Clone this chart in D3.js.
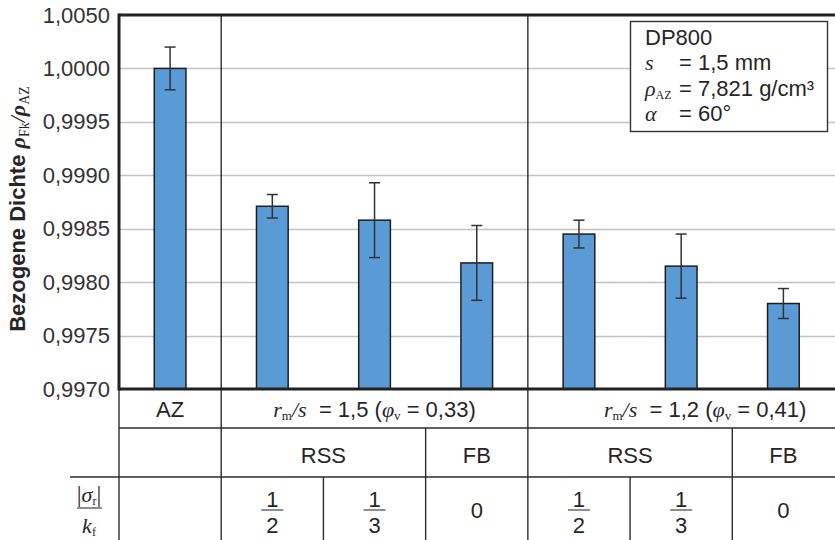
<!DOCTYPE html>
<html>
<head>
<meta charset="utf-8">
<script src="https://cdn.jsdelivr.net/npm/d3@7/dist/d3.min.js"></script>
<style>
  html, body { margin: 0; padding: 0; background: #fff; }
  svg { display: block; }
  .sans { font-family: "Liberation Sans", Arial, Helvetica, sans-serif; }
  .serif { font-family: "Liberation Serif", "Times New Roman", serif; }
</style>
</head>
<body>
<svg id="chart" width="835" height="540"></svg>
<script>
// Categories (one bar each) and their grouping for the table below the plot
const categories = ["AZ", "RSS 1/2 (1,5)", "RSS 1/3 (1,5)", "FB (1,5)", "RSS 1/2 (1,2)", "RSS 1/3 (1,2)", "FB (1,2)"];
// Relative density rho_Fk / rho_AZ and its scatter (± error)
const densities = [1.0000, 0.99871, 0.99858, 0.99818, 0.99845, 0.99815, 0.99780];
const errors    = [0.00020, 0.00011, 0.00035, 0.00035, 0.00013, 0.00030, 0.00014];
// Y axis ticks and their printed labels
const tickValues = [0.9970, 0.9975, 0.9980, 0.9985, 0.9990, 0.9995, 1.0000, 1.0005];
const tickLabels = ["0,9970", "0,9975", "0,9980", "0,9985", "0,9990", "0,9995", "1,0000", "1,0050"];
// Table rows below the plot
const bendGroups = [
  { first: 1, last: 3, r: "1,5", phi: "0,33" },
  { first: 4, last: 6, r: "1,2", phi: "0,41" }
];
const processCells = [
  { first: 1, last: 2, label: "RSS" },
  { first: 3, last: 3, label: "FB" },
  { first: 4, last: 5, label: "RSS" },
  { first: 6, last: 6, label: "FB" }
];
// |sigma_r| / k_f per category: [numerator, denominator] or single value
const stressRatio = [null, ["1", "2"], ["1", "3"], ["0"], ["1", "2"], ["1", "3"], ["0"]];
// Material info box
const infoLines = [
  { sym: null, text: "DP800" },
  { sym: "s", sub: null, text: "= 1,5 mm" },
  { sym: "ρ", sub: "AZ", text: "= 7,821 g/cm³" },
  { sym: "α", sub: null, text: "= 60°" }
];

const svg = d3.select("#chart");
const W = 835, H = 540;
const plotLeft = 119, plotRight = 834.5, plotTop = 15, plotBottom = 389;
const row1 = 428, row2 = 477;
const dark = "#2b2b2b", textCol = "#262626";

const x = d3.scaleBand().domain(categories).range([plotLeft, plotRight]).paddingInner(0.69).paddingOuter(0.345);
const y = d3.scaleLinear().domain([0.9970, 1.0005]).range([plotBottom, plotTop]);
const step = x.step();
const edge = i => plotLeft + i * step;   // cell boundary left of category i

// gridlines
svg.append("g").selectAll("line").data(tickValues.slice(1, -1)).join("line")
  .attr("x1", plotLeft).attr("x2", W)
  .attr("y1", d => Math.round(y(d)) + 0.5).attr("y2", d => Math.round(y(d)) + 0.5)
  .attr("stroke", "#c3c3c3").attr("stroke-width", 1.6);

// bars
svg.append("g").selectAll("rect").data(categories).join("rect")
  .attr("x", d => x(d)).attr("width", x.bandwidth())
  .attr("y", (d, i) => y(densities[i]))
  .attr("height", (d, i) => plotBottom - y(densities[i]))
  .attr("fill", "#5b9bd5").attr("stroke", "#1e1e1e").attr("stroke-width", 1.5);

// error bars
const eb = svg.append("g").attr("stroke", "#333").attr("stroke-width", 1.5);
categories.forEach((c, i) => {
  const cx = x(c) + x.bandwidth() / 2;
  const hi = y(densities[i] + errors[i]), lo = y(densities[i] - errors[i]);
  eb.append("line").attr("x1", cx).attr("x2", cx).attr("y1", hi).attr("y2", lo);
  eb.append("line").attr("x1", cx - 5.5).attr("x2", cx + 5.5).attr("y1", hi).attr("y2", hi);
  eb.append("line").attr("x1", cx - 5.5).attr("x2", cx + 5.5).attr("y1", lo).attr("y2", lo);
});

// y axis with labels
const yAxis = d3.axisLeft(y).tickValues(tickValues).tickSize(0).tickPadding(9)
  .tickFormat((d, i) => tickLabels[i]);
const ga = svg.append("g").attr("transform", `translate(${plotLeft},0)`).call(yAxis);
ga.select(".domain").remove();
ga.selectAll("text").attr("class", "sans").attr("font-size", 22).attr("fill", "#333")
  .attr("font-family", null);

// table and frame lines
const frame = svg.append("g").attr("stroke", dark).attr("stroke-width", 1.4).attr("fill", "none");
frame.append("line").attr("x1", plotLeft).attr("x2", plotLeft).attr("y1", plotBottom).attr("y2", H);
[1, 4].forEach(i => frame.append("line").attr("x1", edge(i)).attr("x2", edge(i)).attr("y1", plotTop).attr("y2", H));
[3, 6].forEach(i => frame.append("line").attr("x1", edge(i)).attr("x2", edge(i)).attr("y1", row1).attr("y2", H));
[2, 5].forEach(i => frame.append("line").attr("x1", edge(i)).attr("x2", edge(i)).attr("y1", row2).attr("y2", H));
frame.append("line").attr("x1", plotLeft).attr("x2", W).attr("y1", row1).attr("y2", row1);
frame.append("line").attr("x1", 70).attr("x2", W).attr("y1", row2).attr("y2", row2);

// heavy plot borders
const heavy = svg.append("g").attr("stroke", "#222").attr("stroke-width", 3).attr("fill", "none");
heavy.append("line").attr("x1", plotLeft).attr("x2", W).attr("y1", plotTop).attr("y2", plotTop);
heavy.append("line").attr("x1", plotLeft).attr("x2", W).attr("y1", plotBottom).attr("y2", plotBottom);
heavy.append("line").attr("x1", plotLeft).attr("x2", plotLeft).attr("y1", plotTop - 1.5).attr("y2", plotBottom + 1.5);

// y axis title
const title = svg.append("text").attr("transform", "translate(25,209) rotate(-90)")
  .attr("text-anchor", "middle").attr("fill", textCol).attr("font-size", 22);
title.append("tspan").attr("class", "sans").attr("font-weight", "bold").text("Bezogene Dichte ");
title.append("tspan").attr("class", "serif").attr("font-style", "italic").attr("font-weight", "bold").text("ρ");
title.append("tspan").attr("class", "serif").attr("font-size", 14).attr("dy", 4).text("Fk");
title.append("tspan").attr("class", "serif").attr("font-style", "italic").attr("dy", -4).text("/");
title.append("tspan").attr("class", "serif").attr("font-style", "italic").attr("font-weight", "bold").text("ρ");
title.append("tspan").attr("class", "serif").attr("font-size", 14).attr("dy", 4).text("AZ");

// row 1: AZ and bending ratio groups
svg.append("text").attr("class", "sans").attr("x", x("AZ") + x.bandwidth() / 2).attr("y", 417)
  .attr("text-anchor", "middle").attr("font-size", 22).attr("fill", textCol).text("AZ");
bendGroups.forEach((g, k) => {
  const cx = (edge(g.first) + edge(g.last + 1)) / 2 + (k === 0 ? 0 : 24);
  const t = svg.append("text").attr("x", cx).attr("y", 417).attr("text-anchor", "middle")
    .attr("font-size", 22).attr("fill", textCol);
  t.append("tspan").attr("class", "serif").attr("font-style", "italic").text("r");
  t.append("tspan").attr("class", "serif").attr("font-size", 13).attr("dy", 3).text("m");
  t.append("tspan").attr("class", "serif").attr("font-style", "italic").attr("dy", -3).text("/s");
  t.append("tspan").attr("class", "sans").text("\u00a0\u00a0= " + g.r + " (");
  t.append("tspan").attr("class", "serif").attr("font-style", "italic").text("φ");
  t.append("tspan").attr("class", "serif").attr("font-size", 13).attr("dy", 3).text("v");
  t.append("tspan").attr("class", "sans").attr("dy", -3).text(" = " + g.phi + ")");
});

// row 2: process
processCells.forEach(p => {
  svg.append("text").attr("class", "sans")
    .attr("x", (edge(p.first) + edge(p.last + 1)) / 2).attr("y", 463)
    .attr("text-anchor", "middle").attr("font-size", 22).attr("fill", textCol).text(p.label);
});

// row 3: stress ratio
stressRatio.forEach((v, i) => {
  if (!v) return;
  const cx = (edge(i) + edge(i + 1)) / 2;
  if (v.length === 1) {
    svg.append("text").attr("class", "sans").attr("x", cx).attr("y", 518)
      .attr("text-anchor", "middle").attr("font-size", 22).attr("fill", textCol).text(v[0]);
  } else {
    svg.append("text").attr("class", "sans").attr("x", cx).attr("y", 506.5)
      .attr("text-anchor", "middle").attr("font-size", 22).attr("fill", textCol).text(v[0]);
    svg.append("line").attr("x1", cx - 11).attr("x2", cx + 11).attr("y1", 510).attr("y2", 510)
      .attr("stroke", "#444").attr("stroke-width", 1.2);
    svg.append("text").attr("class", "sans").attr("x", cx).attr("y", 533)
      .attr("text-anchor", "middle").attr("font-size", 22).attr("fill", textCol).text(v[1]);
  }
});

// row 3 header |sigma_r| / k_f
const num = svg.append("text").attr("x", 89).attr("y", 502).attr("text-anchor", "middle")
  .attr("font-size", 22).attr("fill", textCol).attr("class", "serif");
num.append("tspan").attr("font-size", 24).text("|");
num.append("tspan").attr("font-style", "italic").text("σ");
num.append("tspan").attr("font-size", 12).attr("dy", 3).text("r");
num.append("tspan").attr("font-size", 24).attr("dy", -3).text("|");
svg.append("line").attr("x1", 77).attr("x2", 102).attr("y1", 508).attr("y2", 508)
  .attr("stroke", "#444").attr("stroke-width", 1.2);
const den = svg.append("text").attr("x", 89).attr("y", 533).attr("text-anchor", "middle")
  .attr("font-size", 22).attr("fill", textCol).attr("class", "serif");
den.append("tspan").attr("font-style", "italic").text("k");
den.append("tspan").attr("font-size", 12).attr("dy", 3).text("f");

// info box
svg.append("rect").attr("x", 630.5).attr("y", 21.5).attr("width", 197).attr("height", 110)
  .attr("fill", "#fff").attr("stroke", "#333").attr("stroke-width", 1.4);
infoLines.forEach((l, i) => {
  const yy = 44.5 + i * 25.6;
  if (!l.sym) {
    svg.append("text").attr("class", "sans").attr("x", 645).attr("y", yy)
      .attr("font-size", 22).attr("fill", textCol).text(l.text);
    return;
  }
  const s = svg.append("text").attr("class", "serif").attr("x", 645).attr("y", yy)
    .attr("font-size", 22).attr("fill", textCol);
  s.append("tspan").attr("font-style", "italic").text(l.sym);
  if (l.sub) s.append("tspan").attr("font-size", 12).attr("dy", 3).text(l.sub);
  svg.append("text").attr("class", "sans").attr("x", 679).attr("y", yy)
    .attr("font-size", 22).attr("fill", textCol).text(l.text);
});
</script>
</body>
</html>
